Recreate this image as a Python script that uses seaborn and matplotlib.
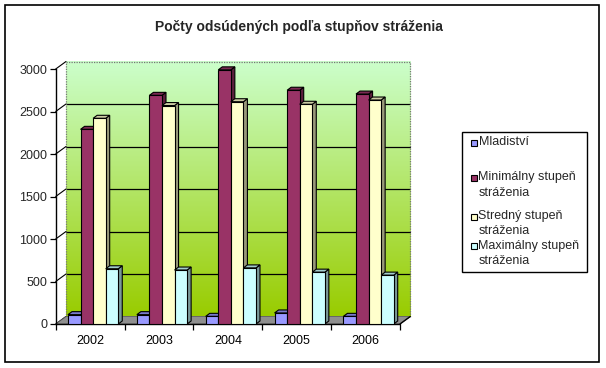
import numpy as np
import pandas as pd
import matplotlib
matplotlib.use("Agg")
import matplotlib.pyplot as plt
from matplotlib.patches import Polygon, Rectangle
import matplotlib.colors as mcolors
import seaborn as sns

years = ["2002", "2003", "2004", "2005", "2006"]
series = ["Mladiství", "Minimálny stupeň stráženia", "Stredný stupeň stráženia", "Maximálny stupeň stráženia"]
legend_labels = ["Mladiství", "Minimálny stupeň\nstráženia", "Stredný stupeň\nstráženia", "Maximálny stupeň\nstráženia"]
mladistvi = [110, 110, 90, 130, 90]
minimalny = [2290, 2690, 2990, 2750, 2705]
stredny = [2420, 2570, 2615, 2585, 2635]
maximalny = [650, 635, 660, 610, 575]
yticks = [0, 500, 1000, 1500, 2000, 2500, 3000]
title = "Počty odsúdených podľa stupňov stráženia"

front_colors = ["#9999ff", "#993366", "#ffffcc", "#ccffff"]
side_colors = ["#5c5c99", "#5c1f3d", "#99997a", "#7a9999"]
top_colors = ["#7a7acc", "#7a2952", "#cccca3", "#a3cccc"]

sns.set_theme(style="white")
plt.rcParams['font.family'] = ['Liberation Sans', 'DejaVu Sans']

df = pd.DataFrame({
    "year": np.repeat(years, 4),
    "series": series * 5,
    "value": np.ravel(np.column_stack([mladistvi, minimalny, stredny, maximalny])),
})

fig = plt.figure(figsize=(6.06, 3.68), dpi=100)
fig.patch.set_facecolor("white")
W, H = 606, 368
ax_l, ax_r, ax_t, ax_b = 55.7, 400.0, 69.0, 324.0
ax = fig.add_axes([ax_l / W, (H - ax_b) / H, (ax_r - ax_l) / W, (ax_b - ax_t) / H])
ax.set_facecolor("none")

sns.barplot(data=df, x="year", y="value", hue="series", hue_order=series,
            palette=front_colors, width=0.73, legend=False, ax=ax,
            edgecolor="black", linewidth=0.8, saturation=1, zorder=5)

xu = (ax_r - ax_l) / 5.0           # px per category
yu = (ax_b - ax_t) / 3000.0        # px per value
dxw, dyw = 10.3 / xu, 7.5 / yu     # wall depth
dxb, dyb = 4.0 / xu, 3.0 / yu      # bar depth
shift = 3.0 / xu

# back wall gradient
grad = np.linspace(0, 1, 256)[:, None]
cmap = mcolors.LinearSegmentedColormap.from_list("g", ["#99cc00", "#ccffcc"])
im = ax.imshow(grad, extent=[-0.5 + dxw, 4.5 + dxw, dyw, 3000 + dyw], origin="lower",
               aspect="auto", cmap=cmap, zorder=0)
im.set_clip_on(False)
for v in yticks[1:-1]:
    ax.plot([-0.5 + dxw, 4.5 + dxw], [v + dyw, v + dyw], color="black", lw=0.9, zorder=1, clip_on=False)
ax.plot([-0.5 + dxw, 4.5 + dxw, 4.5 + dxw], [3000 + dyw, 3000 + dyw, dyw], color="#777777",
        lw=0.9, ls=(0, (1, 1)), zorder=1, clip_on=False)
ax.plot([-0.5 + dxw, -0.5 + dxw], [dyw, 3000 + dyw], color="#777777", lw=0.9, ls=(0, (1, 1)),
        zorder=1, clip_on=False)
for v in yticks:
    ax.plot([-0.5, -0.5 + dxw], [v, v + dyw], color="black", lw=0.8, zorder=1, clip_on=False)

# floor
floor = Polygon([(-0.5, 0), (4.5, 0), (4.5 + dxw, dyw), (-0.5 + dxw, dyw)], closed=True,
                facecolor="#8f8f8f", edgecolor="#555555", lw=0.6, zorder=2, clip_on=False)
ax.add_patch(floor)
ax.plot([-0.5, 4.5], [0, 0], color="black", lw=1.0, zorder=2.5, clip_on=False)
ax.plot([4.5, 4.5 + dxw], [0, dyw], color="black", lw=1.0, zorder=2.5, clip_on=False)

# 3D faces of bars
bars = sorted(ax.patches[:20], key=lambda p: p.get_x())
colidx = {mcolors.to_hex(c): i for i, c in enumerate(front_colors)}
for k, p in enumerate(bars):
    p.set_x(p.get_x() + shift)
    x, w, h = p.get_x(), p.get_width(), p.get_height()
    i = colidx.get(mcolors.to_hex(p.get_facecolor()), 0)
    z = 5 + k * 0.01
    p.set_zorder(z)
    side = Polygon([(x + w, 0), (x + w + dxb, dyb), (x + w + dxb, h + dyb), (x + w, h)], closed=True,
                   facecolor=side_colors[i], edgecolor="black", lw=0.8, zorder=z - 0.005, clip_on=False)
    top = Polygon([(x, h), (x + dxb, h + dyb), (x + w + dxb, h + dyb), (x + w, h)], closed=True,
                  facecolor=top_colors[i], edgecolor="black", lw=0.8, zorder=z - 0.005, clip_on=False)
    ax.add_patch(side)
    ax.add_patch(top)

ax.set_xlim(-0.5, 4.5)
ax.set_ylim(0, 3000)
ax.set_yticks(yticks)
ax.set_yticklabels([str(v) for v in yticks], fontsize=9)
ax.set_xticks(range(5))
ax.set_xticklabels(years, fontsize=9)
ax.set_xticks(np.arange(-0.5, 5.0, 1.0), minor=True)
ax.tick_params(axis="x", which="major", length=0, pad=8, colors="black")
ax.tick_params(axis="x", which="minor", length=4, width=0.9, color="black", bottom=True, direction="out")
ax.tick_params(axis="y", which="major", length=4, width=0.9, color="black", left=True, pad=2, direction="out")
ax.set_xlabel("")
ax.set_ylabel("")
for s in ["top", "right", "bottom"]:
    ax.spines[s].set_visible(False)
ax.spines["left"].set_color("black")
ax.spines["left"].set_linewidth(1.0)
ax.grid(False)

# title
fig.text(298.7 / W, 1 - 27 / H, title, ha="center", va="center", fontsize=10, fontweight="bold")

# legend (manual)
fig.add_artist(Rectangle((461.7 / W, 1 - 271.7 / H), (586.7 - 461.7) / W, (271.7 - 131.7) / H,
                         transform=fig.transFigure, facecolor="white", edgecolor="black", lw=1.0))
first_line_y = [142.7, 178, 216.7, 246]
for lab, c, yy in zip(legend_labels, front_colors, first_line_y):
    fig.add_artist(Rectangle((470.5 / W, 1 - (yy + 3) / H), 6 / W, 6 / H, transform=fig.transFigure,
                             facecolor=c, edgecolor="black", lw=0.8))
    fig.text(478.5 / W, 1 - (yy - 6.5) / H, lab, ha="left", va="top", fontsize=9, linespacing=1.35)

# outer border
fig.add_artist(Rectangle((5 / W, 1 - 362 / H), (599 - 5) / W, (362 - 5) / H, transform=fig.transFigure,
                         facecolor="none", edgecolor="black", lw=1.2))

fig.savefig("out.png", dpi=100)
